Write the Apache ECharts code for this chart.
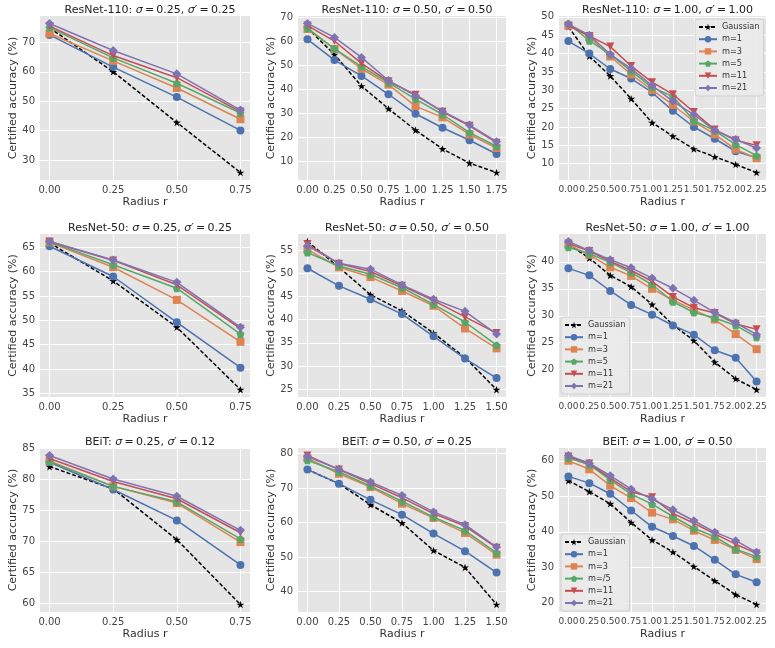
<!DOCTYPE html>
<html>
<head>
<meta charset="utf-8">
<script src="https://cdn.jsdelivr.net/npm/echarts@6/dist/echarts.min.js"></script>
<style>
html, body { margin: 0; padding: 0; background: #fff; }
#main { width: 775px; height: 648px; }
</style>
</head>
<body>
<div id="main"></div>
<script>
// radii (x values) for each panel length
var radii4 = [0, 0.25, 0.5, 0.75];
var radii7 = [0, 0.25, 0.5, 0.75, 1.0, 1.25, 1.5];
var radii8 = [0, 0.25, 0.5, 0.75, 1.0, 1.25, 1.5, 1.75];
var radii10 = [0, 0.25, 0.5, 0.75, 1.0, 1.25, 1.5, 1.75, 2.0, 2.25];

var seriesNames = ['Gaussian', 'm=1', 'm=3', 'm=5', 'm=11', 'm=21'];
var seriesNamesBeit = ['Gaussian', 'm=1', 'm=3', 'm=/5', 'm=11', 'm=21'];

// rows: Gaussian, m=1, m=3, m=5, m=11, m=21
var resnet110_s025 = [
    [74.9, 60.0, 42.8, 25.8],
    [72.5, 61.6, 51.4, 40.1],
    [73.0, 63.7, 54.5, 43.9],
    [75.0, 64.7, 56.1, 46.0],
    [75.5, 65.5, 58.0, 46.5],
    [76.4, 67.2, 59.3, 47.0]
];
var resnet110_s050 = [
    [65.5, 54.5, 41.4, 32.0, 23.1, 15.3, 9.4, 5.5],
    [60.8, 52.2, 45.6, 38.0, 29.9, 24.1, 18.9, 13.2],
    [65.1, 56.8, 48.6, 42.0, 33.1, 28.4, 21.3, 15.7],
    [65.5, 56.9, 49.5, 42.8, 36.0, 29.6, 22.1, 16.4],
    [66.5, 60.1, 50.8, 43.4, 37.8, 30.7, 24.9, 17.9],
    [67.4, 61.6, 53.3, 43.7, 37.4, 31.0, 25.2, 18.3]
];
var resnet110_s100 = [
    [47.3, 39.3, 33.9, 27.7, 21.2, 17.5, 14.0, 11.9, 9.8, 7.6],
    [43.4, 40.0, 35.8, 33.2, 29.4, 24.4, 20.0, 16.8, 13.4, 11.6],
    [47.6, 44.6, 39.2, 34.3, 30.1, 26.0, 21.5, 18.0, 13.9, 11.5],
    [48.2, 43.5, 39.8, 35.2, 30.8, 28.3, 21.7, 19.0, 15.2, 12.2],
    [47.6, 44.8, 41.9, 36.6, 32.2, 28.9, 24.1, 19.3, 16.4, 15.0],
    [48.0, 45.0, 39.8, 35.9, 31.3, 27.0, 23.4, 19.1, 16.6, 14.3]
];
var resnet50_s025 = [
    [65.9, 58.1, 48.6, 35.8],
    [65.2, 59.0, 49.6, 40.3],
    [66.0, 60.9, 54.2, 45.6],
    [66.1, 61.4, 56.6, 47.2],
    [66.2, 62.3, 57.3, 48.3],
    [66.2, 62.4, 57.8, 48.6]
];
var resnet50_s050 = [
    [56.9, 51.3, 45.4, 41.9, 37.1, 31.8, 24.9],
    [51.1, 47.3, 44.4, 41.2, 36.4, 31.6, 27.4],
    [55.2, 51.3, 49.2, 46.2, 43.0, 38.1, 33.8],
    [54.5, 51.6, 49.8, 46.9, 43.3, 39.5, 34.5],
    [56.3, 52.1, 50.4, 47.3, 44.1, 40.6, 37.1],
    [55.9, 52.2, 50.9, 47.5, 44.4, 41.8, 36.9]
];
var resnet50_s100 = [
    [43.3, 40.7, 37.5, 35.4, 32.1, 28.3, 25.4, 21.4, 18.3, 16.3],
    [38.8, 37.5, 34.6, 32.0, 30.2, 28.2, 26.5, 23.6, 22.2, 17.8],
    [43.2, 41.3, 39.0, 37.4, 35.0, 32.9, 31.1, 29.3, 26.6, 23.8],
    [42.7, 41.5, 39.9, 38.0, 35.8, 32.6, 30.6, 29.6, 28.2, 26.0],
    [43.4, 42.0, 40.1, 38.4, 36.4, 33.5, 31.5, 30.5, 28.5, 27.5],
    [43.8, 42.1, 40.4, 38.9, 37.0, 35.1, 32.9, 30.6, 28.7, 26.5]
];
var beit_s025 = [
    [82.1, 78.5, 70.3, 59.8],
    [82.8, 78.4, 73.4, 66.2],
    [83.0, 78.9, 76.2, 69.9],
    [82.9, 78.9, 76.4, 70.4],
    [83.4, 79.7, 76.9, 71.4],
    [83.9, 80.1, 77.3, 71.8]
];
var beit_s050 = [
    [75.4, 71.3, 65.2, 59.9, 51.9, 47.0, 36.2],
    [75.4, 71.3, 66.6, 62.3, 56.8, 51.7, 45.5],
    [78.7, 74.2, 70.3, 65.5, 61.3, 57.0, 50.7],
    [78.1, 74.7, 70.6, 66.2, 61.6, 57.7, 51.2],
    [79.5, 75.4, 71.3, 67.2, 62.6, 59.0, 52.7],
    [79.2, 75.5, 71.8, 67.9, 63.1, 59.4, 52.9]
];
var beit_s100 = [
    [54.4, 51.3, 47.9, 42.6, 37.7, 34.3, 30.2, 26.2, 22.3, 19.5],
    [55.6, 53.7, 50.7, 46.0, 41.4, 38.8, 36.0, 32.1, 28.0, 25.8],
    [60.0, 57.6, 53.0, 49.5, 45.4, 43.5, 40.3, 37.7, 34.9, 32.3],
    [60.8, 58.9, 54.6, 50.6, 47.8, 44.3, 41.0, 38.6, 35.1, 33.0],
    [61.2, 59.2, 55.1, 51.3, 49.7, 45.2, 42.4, 39.4, 36.5, 33.9],
    [61.5, 59.3, 55.8, 52.0, 49.2, 46.2, 43.1, 39.9, 37.5, 34.2]
];

// y tick labels per panel
var yTicks1 = [30, 40, 50, 60, 70];
var yTicks2 = [10, 20, 30, 40, 50, 60, 70];
var yTicks3 = [10, 15, 20, 25, 30, 35, 40, 45, 50];
var yTicks4 = [35, 40, 45, 50, 55, 60, 65];
var yTicks5 = [25, 30, 35, 40, 45, 50, 55];
var yTicks6 = [20, 25, 30, 35, 40];
var yTicks7 = [60, 65, 70, 75, 80, 85];
var yTicks8 = [40, 50, 60, 70, 80];
var yTicks9 = [20, 30, 40, 50, 60];

var panels = [
    { model: 'ResNet-110', s: '0.25', sp: '0.25', x: radii4, rows: resnet110_s025, yt: yTicks1, names: seriesNames },
    { model: 'ResNet-110', s: '0.50', sp: '0.50', x: radii8, rows: resnet110_s050, yt: yTicks2, names: seriesNames },
    { model: 'ResNet-110', s: '1.00', sp: '1.00', x: radii10, rows: resnet110_s100, yt: yTicks3, names: seriesNames },
    { model: 'ResNet-50', s: '0.25', sp: '0.25', x: radii4, rows: resnet50_s025, yt: yTicks4, names: seriesNames },
    { model: 'ResNet-50', s: '0.50', sp: '0.50', x: radii7, rows: resnet50_s050, yt: yTicks5, names: seriesNames },
    { model: 'ResNet-50', s: '1.00', sp: '1.00', x: radii10, rows: resnet50_s100, yt: yTicks6, names: seriesNames },
    { model: 'BEiT', s: '0.25', sp: '0.12', x: radii4, rows: beit_s025, yt: yTicks7, names: seriesNames },
    { model: 'BEiT', s: '0.50', sp: '0.25', x: radii7, rows: beit_s050, yt: yTicks8, names: seriesNames },
    { model: 'BEiT', s: '1.00', sp: '0.50', x: radii10, rows: beit_s100, yt: yTicks9, names: seriesNamesBeit }
];

var colors = ['#000000', '#4C72B0', '#DD8452', '#55A868', '#C44E52', '#8172B3'];
var starPath = 'path://M50,0 L61,35 L98,35 L68,57 L79,91 L50,70 L21,91 L32,57 L2,35 L39,35 Z';
var pentPath = 'path://M50,0 L98,36 L80,95 L20,95 L2,36 Z';
var symbols = [starPath, 'circle', 'rect', pentPath, 'triangle', 'diamond'];
var symbolSizes = [8, 8, 8, 8, 8, 9];
var symbolRotates = [0, 0, 0, 0, 180, 0];

var colLeft = [40, 298, 559];
var colWidth = [210, 208, 207];
var rowTop = [16, 234, 448];
var rowHeight = [164, 163, 164];
var font = 'DejaVu Sans';
var thin = '\u2009';

var grids = [], xAxes = [], yAxes = [], titles = [], series = [];

panels.forEach(function (p, i) {
    var col = i % 3, row = Math.floor(i / 3);
    grids.push({
        left: colLeft[col], top: rowTop[row], width: colWidth[col], height: rowHeight[row],
        show: true, backgroundColor: '#E5E5E5', borderWidth: 0
    });

    var x0 = p.x[0], x1 = p.x[p.x.length - 1];
    var all = [].concat.apply([], p.rows);
    var y0 = Math.min.apply(null, all), y1 = Math.max.apply(null, all);
    var xm = (x1 - x0) * 0.05, ym = (y1 - y0) * 0.05;
    // dense tick rows need a slightly smaller font so every label is kept
    var xFont = p.x.length > 8 ? 9 : 10;

    xAxes.push({
        type: 'value', gridIndex: i, min: x0 - xm, max: x1 + xm,
        axisLine: { show: false },
        axisTick: { show: false, customValues: p.x },
        splitLine: { show: true, lineStyle: { color: '#ffffff', width: 1 } },
        axisLabel: {
            customValues: p.x, margin: 5, color: '#444', fontSize: xFont, fontFamily: font,
            showMinLabel: true, showMaxLabel: true, hideOverlap: false,
            formatter: function (v) { return v.toFixed(2); }
        },
        name: 'Radius r', nameLocation: 'middle', nameGap: 17,
        nameTextStyle: { color: '#333', fontSize: 11, fontFamily: font }
    });
    yAxes.push({
        type: 'value', gridIndex: i, min: y0 - ym, max: y1 + ym,
        axisLine: { show: false },
        axisTick: { show: false, customValues: p.yt },
        splitLine: { show: true, lineStyle: { color: '#ffffff', width: 1 } },
        axisLabel: { customValues: p.yt, margin: 5, color: '#444', fontSize: 10, fontFamily: font },
        name: 'Certified accuracy (%)', nameLocation: 'middle', nameGap: 21,
        nameTextStyle: { color: '#333', fontSize: 11, fontFamily: font }
    });
    titles.push({
        text: p.model + ': {i|σ}' + thin + '=' + thin + p.s + ', {i|σ}′' + thin + '=' + thin + p.sp,
        left: colLeft[col] + colWidth[col] / 2, top: rowTop[row] - 16, textAlign: 'center',
        textStyle: {
            fontSize: 11, fontWeight: 'normal', color: '#222', fontFamily: font,
            rich: { i: { fontStyle: 'italic', fontSize: 11, color: '#222', fontFamily: font } }
        }
    });

    p.rows.forEach(function (vals, j) {
        series.push({
            type: 'line', name: p.names[j], xAxisIndex: i, yAxisIndex: i,
            data: p.x.map(function (r, k) { return [r, vals[k]]; }),
            symbol: symbols[j], symbolSize: symbolSizes[j], symbolRotate: symbolRotates[j],
            symbolKeepAspect: true, showAllSymbol: true,
            color: colors[j],
            itemStyle: { color: colors[j] },
            lineStyle: { color: colors[j], width: 1.5, type: j === 0 ? [4, 2] : 'solid' },
            z: 2 + j,
            animation: false
        });
    });
});

var legendBase = {
    orient: 'vertical', backgroundColor: 'rgba(234,234,234,0.9)', borderColor: '#d0d0d0', borderWidth: 1,
    borderRadius: 3, padding: [3, 4, 3, 3], itemWidth: 18, itemHeight: 8, itemGap: 2.2,
    textStyle: { fontSize: 8.2, lineHeight: 10, color: '#333', fontFamily: font },
    selectedMode: false
};
var legends = [
    Object.assign({}, legendBase, { data: seriesNames, left: 695, top: 19 }),
    Object.assign({}, legendBase, { data: seriesNames, left: 561, top: 317 }),
    Object.assign({}, legendBase, { data: seriesNamesBeit, left: 561, top: 534 })
];

var myChart = echarts.init(document.getElementById('main'));
myChart.setOption({
    backgroundColor: '#ffffff',
    animation: false,
    title: titles,
    legend: legends,
    grid: grids,
    xAxis: xAxes,
    yAxis: yAxes,
    series: series
});
</script>
</body>
</html>
